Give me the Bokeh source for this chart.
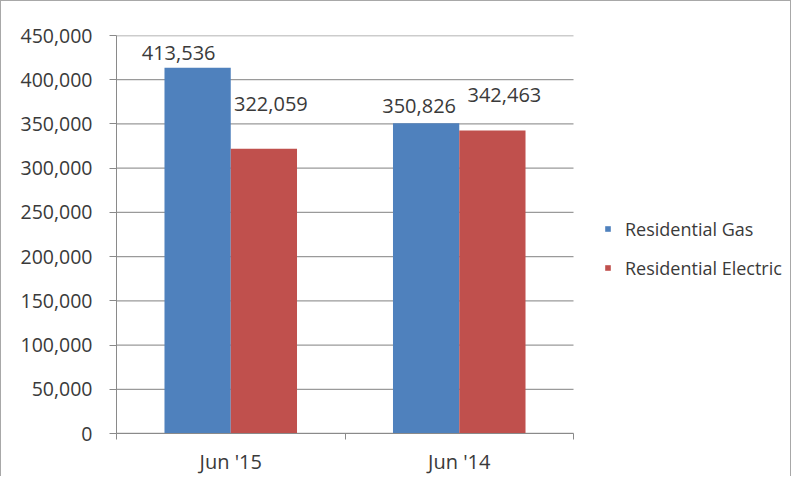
from bokeh.plotting import figure
from bokeh.models import (ColumnDataSource, Range1d, FixedTicker, NumeralTickFormatter,
                          Legend, LegendItem, LabelSet)
from bokeh.core.properties import value
from bokeh.embed import file_html
from bokeh.resources import INLINE

# ---- data ----
categories = ["Jun '15", "Jun '14"]
series_names = ["Residential Gas", "Residential Electric"]
gas = [413536, 350826]
electric = [322059, 342463]
y_ticks = [0, 50000, 100000, 150000, 200000, 250000, 300000, 350000, 400000, 450000]

# ---- styling / layout ----
colors = ["#4F81BD", "#C0504D"]
bar_w = 0.29
font = "Open Sans"
txt = "#3a3a3a"
grid_col = "#9a9a9a"
axis_col = "#8a8a8a"
# per-label manual offsets (pixels), mimicking the reference placement
gas_dx, gas_dy = [-19, -7], [15, 17]
ele_dx, ele_dy = [7, 12], [45, 36]

W, H = 791, 476
left, top, bottom, right_pad = 115, 34, 41, 8
plot_px = 457                      # pixel width of the category area
n = len(categories)
x_end = n * (W - right_pad - left) / plot_px   # extra room on the right for the legend

idx = list(range(n))
centers = [i + 0.5 for i in idx]

p = figure(width=W, height=H, output_backend="svg", toolbar_location=None,
           x_range=Range1d(0, x_end), y_range=Range1d(0, 450000),
           min_border_left=left, min_border_right=right_pad, min_border_top=top,
           min_border_bottom=bottom)
p.outline_line_color = None
p.styles = {"border": "1px solid #a8a8a8", "border-bottom": "none"}

# horizontal gridlines only across the category area
p.segment(x0=[0] * len(y_ticks), x1=[n] * len(y_ticks), y0=y_ticks, y1=y_ticks,
          line_color=grid_col, line_width=1.3)

src_g = ColumnDataSource(dict(x=[c - bar_w / 2 for c in centers], top=gas,
                              lab=[f"{v:,}" for v in gas], dx=gas_dx, dy=gas_dy))
src_e = ColumnDataSource(dict(x=[c + bar_w / 2 for c in centers], top=electric,
                              lab=[f"{v:,}" for v in electric], dx=ele_dx, dy=ele_dy))

r_g = p.vbar(x="x", top="top", width=bar_w, bottom=0, source=src_g,
             fill_color=colors[0], line_color=None)
r_e = p.vbar(x="x", top="top", width=bar_w, bottom=0, source=src_e,
             fill_color=colors[1], line_color=None)

for s in (src_g, src_e):
    ls = LabelSet(x="x", y="top", text="lab", source=s, x_offset="dx", y_offset="dy",
                  text_align="center", text_baseline="middle",
                  text_font=value(font), text_font_size=value("20px"), text_color=txt)
    p.add_layout(ls)

# y axis
p.yaxis.ticker = FixedTicker(ticks=y_ticks)
p.yaxis.formatter = NumeralTickFormatter(format="0,0")
p.yaxis.major_tick_out = 7
p.yaxis.major_tick_in = 0
p.yaxis.minor_tick_line_color = None
p.yaxis.major_label_standoff = 17
p.yaxis.axis_line_color = axis_col
p.yaxis.major_tick_line_color = axis_col
p.yaxis.major_label_text_font = font
p.yaxis.major_label_text_font_size = "19.5px"
p.yaxis.major_label_text_color = txt

# x axis: labels at category centres, ticks on category boundaries
p.xaxis.bounds = (0, n)
p.xaxis.ticker = FixedTicker(ticks=centers, minor_ticks=[0] + [i + 1 for i in idx])
p.xaxis.major_label_overrides = {c: cat for c, cat in zip(centers, categories)}
p.xaxis.major_tick_line_color = None
p.xaxis.major_tick_out = 0
p.xaxis.major_tick_in = 0
p.xaxis.minor_tick_out = 6
p.xaxis.minor_tick_in = 0
p.xaxis.minor_tick_line_color = axis_col
p.xaxis.axis_line_color = axis_col
p.xaxis.major_label_standoff = 8
p.xaxis.major_label_text_font = font
p.xaxis.major_label_text_font_size = "20px"
p.xaxis.major_label_text_color = txt

p.xgrid.grid_line_color = None
p.ygrid.grid_line_color = None

legend = Legend(items=[LegendItem(label=series_names[0], renderers=[r_g]),
                       LegendItem(label=series_names[1], renderers=[r_e])],
                location=(488, 153), orientation="vertical")
legend.border_line_color = None
legend.background_fill_alpha = 0
legend.padding = 0
legend.margin = 0
legend.glyph_width = 7
legend.glyph_height = 7
legend.label_height = 25
legend.label_standoff = 14
legend.spacing = 14
legend.label_text_font = font
legend.label_text_font_size = "18px"
legend.label_text_color = txt
p.add_layout(legend, "center")

open("out.html", "w").write(file_html(p, INLINE))
